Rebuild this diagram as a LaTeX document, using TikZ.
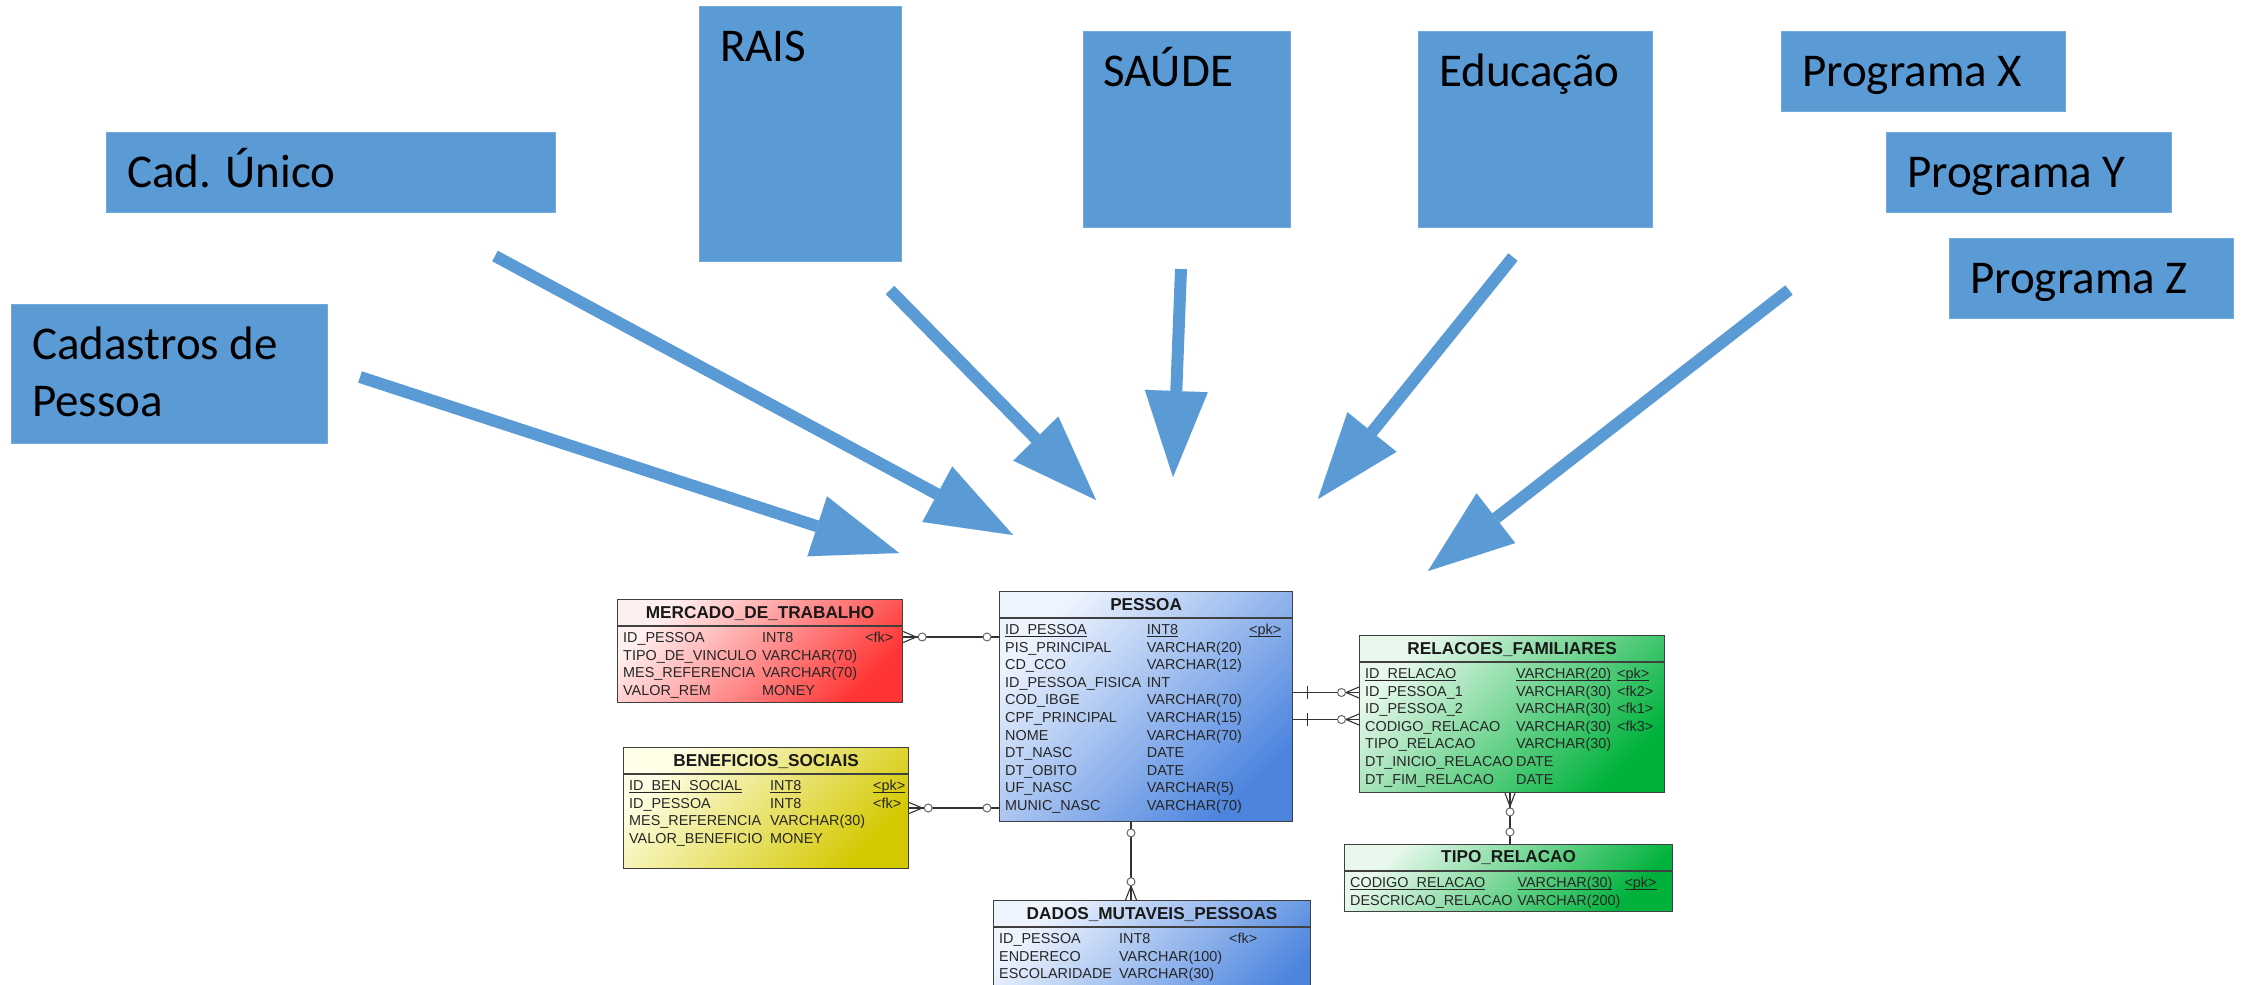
\documentclass[tikz,border=0pt]{standalone}
\usepackage{fontspec}
\usetikzlibrary{arrows.meta,calc}
\newfontfamily\srcfont{Carlito}
\newfontfamily\erfont{Liberation Sans}
\definecolor{srcblue}{HTML}{5B9BD5}
\definecolor{erredL}{HTML}{FFF0F0}
\definecolor{erred}{HTML}{FF3535}
\definecolor{eryelL}{HTML}{FFFFE8}
\definecolor{eryel}{HTML}{D4C800}
\definecolor{erbluL}{HTML}{EEF4FE}
\definecolor{erblu}{HTML}{4C84DE}
\definecolor{ergrnL}{HTML}{E8F8EC}
\definecolor{ergrn}{HTML}{00B23C}
% underline for key columns, kept at a fixed height below the baseline
\newcommand\keyul[1]{\underline{\smash{#1}}}
\begin{document}
\begin{tikzpicture}[x=1pt,y=-1pt,
  srcbox/.style={fill=srcblue,draw=srcblue!85!white,line width=0.8pt,inner sep=0pt,anchor=north west},
  srctext/.style={font=\srcfont\fontsize{47}{57}\selectfont,text=black,inner sep=0pt,anchor=base west},
  bigarrow/.style={draw=srcblue,line width=12pt,-{Triangle[length=86pt,width=63pt,line width=0.01pt]}},
  tbl/.style={draw=black!75,line width=1.2pt,inner sep=0pt,anchor=north west},
  redfill/.style={top color=erredL,bottom color=erred,shading angle=45},
  yelfill/.style={top color=eryelL,bottom color=eryel,shading angle=45},
  blufill/.style={top color=erbluL,bottom color=erblu,shading angle=45},
  grnfill/.style={top color=ergrnL,bottom color=ergrn,shading angle=45},
  hsep/.style={draw=black!75,line width=1.2pt},
  ttl/.style={font=\erfont\bfseries\fontsize{17.2}{20}\selectfont,text=black!90,inner sep=0pt,anchor=base},
  rows/.style={font=\erfont\fontsize{14.4}{17.6}\selectfont,text=black!85,inner sep=0pt,anchor=base west},
  rel/.style={draw=black!80,line width=1.1pt},
  relc/.style={draw=black!60,fill=white,line width=1pt}
]
\path[use as bounding box,clip] (0,0) rectangle (2244,985);

% ---------- data sources ----------
\node[srcbox,minimum width=449pt,minimum height=80pt]  (cad)   at (106,132) {};
\node[srcbox,minimum width=316pt,minimum height=139pt] (cdp)   at (11,304)  {};
\node[srcbox,minimum width=202pt,minimum height=255pt] (rais)  at (699,6)   {};
\node[srcbox,minimum width=207pt,minimum height=196pt] (saude) at (1083,31) {};
\node[srcbox,minimum width=234pt,minimum height=196pt] (edu)   at (1418,31) {};
\node[srcbox,minimum width=284pt,minimum height=80pt]  (px)    at (1781,31) {};
\node[srcbox,minimum width=285pt,minimum height=80pt]  (py)    at (1886,132) {};
\node[srcbox,minimum width=284pt,minimum height=80pt]  (pz)    at (1949,238) {};

\node[srctext] (cad-t)   at ($(cad.north west)+(21,55)$)   {Cad. Único};
\node[srctext] (cdp-t1)  at ($(cdp.north west)+(21,55)$)   {Cadastros de};
\node[srctext] (cdp-t2)  at ($(cdp.north west)+(21,112)$)  {Pessoa};
\node[srctext] (rais-t)  at ($(rais.north west)+(21,55)$)  {RAIS};
\node[srctext] (saude-t) at ($(saude.north west)+(20,55)$) {SAÚDE};
\node[srctext] (edu-t)   at ($(edu.north west)+(21,55)$)   {Educação};
\node[srctext] (px-t)    at ($(px.north west)+(21,55)$)    {Programa X};
\node[srctext] (py-t)    at ($(py.north west)+(21,55)$)    {Programa Y};
\node[srctext] (pz-t)    at ($(pz.north west)+(21,55)$)    {Programa Z};

% ---------- flow arrows ----------
\coordinate (a1s) at (360,377);  \coordinate (a1e) at (899,553);
\coordinate (a2s) at (495,256);  \coordinate (a2e) at (1013,535);
\coordinate (a3s) at (890,290);  \coordinate (a3e) at (1096,500);
\coordinate (a4s) at (1181,269); \coordinate (a4e) at (1173,477);
\coordinate (a5s) at (1513,257); \coordinate (a5e) at (1318,499);
\coordinate (a6s) at (1789,290); \coordinate (a6e) at (1428,571);
\foreach \i in {1,...,6} {\draw[bigarrow] (a\i s) -- (a\i e);}

% ---------- entity tables ----------
\node[tbl,redfill,minimum width=285pt,minimum height=103pt] (mt) at (617,599) {};
\draw[hsep] ([yshift=-27pt]mt.north west) -- ([yshift=-27pt]mt.north east);
\node[ttl] (mt-t) at ($(mt.north)+(0,19)$) {MERCADO\_DE\_TRABALHO};
\node[rows] (mt-r) at ($(mt.north west)+(6,43.5)$) {\begin{tabular}[t]{@{}p{139pt}@{}p{103pt}@{}l@{}}
ID\_PESSOA & INT8 & <fk>\\
TIPO\_DE\_VINCULO & VARCHAR(70) & \\
MES\_REFERENCIA & VARCHAR(70) & \\
VALOR\_REM & MONEY &
\end{tabular}};

\node[tbl,yelfill,minimum width=285pt,minimum height=121pt] (bs) at (623,747) {};
\draw[hsep] ([yshift=-27pt]bs.north west) -- ([yshift=-27pt]bs.north east);
\node[ttl] (bs-t) at ($(bs.north)+(0,19)$) {BENEFICIOS\_SOCIAIS};
\node[rows] (bs-r) at ($(bs.north west)+(6,43.5)$) {\begin{tabular}[t]{@{}p{141pt}@{}p{103pt}@{}l@{}}
\keyul{ID\_BEN\_SOCIAL} & \keyul{INT8} & \keyul{<pk>}\\
ID\_PESSOA & INT8 & <fk>\\
MES\_REFERENCIA & VARCHAR(30) & \\
VALOR\_BENEFICIO & MONEY &
\end{tabular}};

\node[tbl,blufill,minimum width=293pt,minimum height=230pt] (ps) at (999,591) {};
\draw[hsep] ([yshift=-27pt]ps.north west) -- ([yshift=-27pt]ps.north east);
\node[ttl] (ps-t) at ($(ps.north)+(0,19)$) {PESSOA};
\node[rows] (ps-r) at ($(ps.north west)+(6,43.5)$) {\begin{tabular}[t]{@{}p{141.7pt}@{}p{102.3pt}@{}l@{}}
\keyul{ID\_PESSOA} & \keyul{INT8} & \keyul{<pk>}\\
PIS\_PRINCIPAL & VARCHAR(20) & \\
CD\_CCO & VARCHAR(12) & \\
ID\_PESSOA\_FISICA & INT & \\
COD\_IBGE & VARCHAR(70) & \\
CPF\_PRINCIPAL & VARCHAR(15) & \\
NOME & VARCHAR(70) & \\
DT\_NASC & DATE & \\
DT\_OBITO & DATE & \\
UF\_NASC & VARCHAR(5) & \\
MUNIC\_NASC & VARCHAR(70) &
\end{tabular}};

\node[tbl,grnfill,minimum width=305pt,minimum height=157pt] (rf) at (1359,635) {};
\draw[hsep] ([yshift=-27pt]rf.north west) -- ([yshift=-27pt]rf.north east);
\node[ttl] (rf-t) at ($(rf.north)+(0,19)$) {RELACOES\_FAMILIARES};
\node[rows] (rf-r) at ($(rf.north west)+(6,43.5)$) {\begin{tabular}[t]{@{}p{151pt}@{}p{101pt}@{}l@{}}
\keyul{ID\_RELACAO} & \keyul{VARCHAR(20)} & \keyul{<pk>}\\
ID\_PESSOA\_1 & VARCHAR(30) & <fk2>\\
ID\_PESSOA\_2 & VARCHAR(30) & <fk1>\\
CODIGO\_RELACAO & VARCHAR(30) & <fk3>\\
TIPO\_RELACAO & VARCHAR(30) & \\
DT\_INICIO\_RELACAO & DATE & \\
DT\_FIM\_RELACAO & DATE &
\end{tabular}};

\node[tbl,grnfill,minimum width=328pt,minimum height=67pt] (tr) at (1344,844) {};
\draw[hsep] ([yshift=-27pt]tr.north west) -- ([yshift=-27pt]tr.north east);
\node[ttl] (tr-t) at ($(tr.north)+(0,18)$) {TIPO\_RELACAO};
\node[rows] (tr-r) at ($(tr.north west)+(6,43.5)$) {\begin{tabular}[t]{@{}p{167.3pt}@{}p{107pt}@{}l@{}}
\keyul{CODIGO\_RELACAO} & \keyul{VARCHAR(30)} & \keyul{<pk>}\\
DESCRICAO\_RELACAO & VARCHAR(200) &
\end{tabular}};

\node[tbl,blufill,minimum width=317pt,minimum height=120pt] (dm) at (993,900) {};
\draw[hsep] ([yshift=-27pt]dm.north west) -- ([yshift=-27pt]dm.north east);
\node[ttl] (dm-t) at ($(dm.north)+(0,19)$) {DADOS\_MUTAVEIS\_PESSOAS};
\node[rows] (dm-r) at ($(dm.north west)+(6,43.5)$) {\begin{tabular}[t]{@{}p{120pt}@{}p{110pt}@{}l@{}}
ID\_PESSOA & INT8 & <fk>\\
ENDERECO & VARCHAR(100) & \\
ESCOLARIDADE & VARCHAR(30) &
\end{tabular}};

% ---------- relationships ----------
% MERCADO_DE_TRABALHO -- PESSOA
\coordinate (c1a) at ([yshift=-38pt]mt.north east);
\coordinate (c1b) at ([yshift=-46pt]ps.north west);
\draw[rel] (c1a) -- (c1b);
\draw[rel] ($(c1a)+(0,-5.5)$) -- ($(c1a)+(13,0)$) -- ($(c1a)+(0,5.5)$);
\draw[relc] ($(c1a)+(19,0)$) circle (4pt);
\draw[relc] ($(c1b)+(-12,0)$) circle (4pt);

% BENEFICIOS_SOCIAIS -- PESSOA
\coordinate (c2a) at ([yshift=-61pt]bs.north east);
\coordinate (c2b) at ([yshift=-217pt]ps.north west);
\draw[rel] (c2a) -- (c2b);
\draw[rel] ($(c2a)+(0,-5.5)$) -- ($(c2a)+(13,0)$) -- ($(c2a)+(0,5.5)$);
\draw[relc] ($(c2a)+(19,0)$) circle (4pt);
\draw[relc] ($(c2b)+(-12,0)$) circle (4pt);

% PESSOA -- RELACOES_FAMILIARES (two roles)
\coordinate (c3a) at ([yshift=-101.5pt]ps.north east);
\coordinate (c3b) at ([yshift=-57.5pt]rf.north west);
\coordinate (c4a) at ([yshift=-128.5pt]ps.north east);
\coordinate (c4b) at ([yshift=-84.5pt]rf.north west);
\foreach \c in {3,4} {
  \draw[rel] (c\c a) -- (c\c b);
  \draw[rel] ($(c\c a)+(14,-6.5)$) -- ($(c\c a)+(14,6.5)$);
  \draw[rel] ($(c\c b)+(0,-5.5)$) -- ($(c\c b)+(-13,0)$) -- ($(c\c b)+(0,5.5)$);
  \draw[relc] ($(c\c b)+(-17.5,0)$) circle (4pt);
}

% PESSOA -- DADOS_MUTAVEIS_PESSOAS
\coordinate (c5a) at ([xshift=132pt]ps.south west);
\coordinate (c5b) at ([xshift=138pt]dm.north west);
\draw[rel] (c5a) -- ($(c5a)+(0,39)$) -- ($(c5b)+(0,-39)$) -- (c5b);
\draw[rel] ($(c5b)+(-5.5,0)$) -- ($(c5b)+(0,-14)$) -- ($(c5b)+(5.5,0)$);
\draw[relc] ($(c5a)+(0,10.7)$) circle (4pt);
\draw[relc] ($(c5b)+(0,-18.3)$) circle (4pt);

% RELACOES_FAMILIARES -- TIPO_RELACAO
\coordinate (c6a) at ([xshift=151pt]rf.south west);
\coordinate (c6b) at ([xshift=166pt]tr.north west);
\draw[rel] (c6a) -- (c6b);
\draw[rel] ($(c6a)+(-5,0)$) -- ($(c6a)+(0,13)$) -- ($(c6a)+(5,0)$);
\draw[relc] ($(c6a)+(0,18.7)$) circle (4pt);
\draw[relc] ($(c6b)+(0,-12)$) circle (4pt);
\end{tikzpicture}
\end{document}
